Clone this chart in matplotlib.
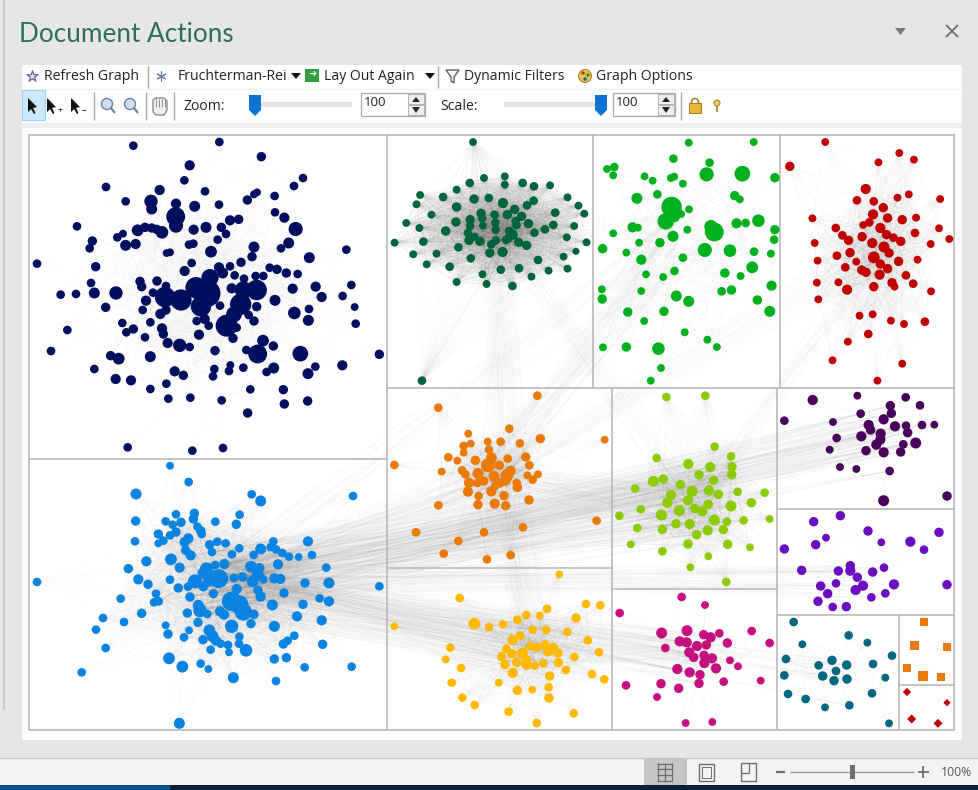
import numpy as np
import matplotlib
matplotlib.use('Agg')
import matplotlib.pyplot as plt
from matplotlib.collections import LineCollection
from matplotlib.patches import Rectangle, Polygon, Circle

navy = [(310,32,11),(568,21,11),(694,65,12),(479,91,13),(463,136,11),(228,156,11),(389,165,13),(525,169,11),(819,129,11),(792,153,11),(734,183,11),(681,172,10),(672,178,10),(652,195,12),(287,199,11),(363,199,17),(365,222,14),(438,206,13),(494,214,14),(567,209,11),(437,245,24),(438,272,18),(735,232,11),(763,248,13),(797,282,18),(600,256,13),(626,253,12),(574,277,12),(528,277,14),(491,284,13),(588,297,11),(141,274,11),(279,296,10),(262,307,11),(323,286,15),(345,277,12),(365,279,12),(380,283,12),(396,292,16),(187,318,12),(179,340,11),(287,331,14),(317,327,13),(477,329,11),(490,326,11),(563,314,11),(410,354,10),(420,352,10),(543,350,15),(776,324,14),(672,336,14),(753,340,11),(666,365,12),(949,344,11),(838,368,14),(633,382,12),(21,386,11),(197,395,12),(485,384,11),(464,408,13),(567,397,13),(600,394,11),(578,414,14),(540,428,22),(614,421,11),(719,398,11),(741,403,12),(769,414,12),(803,417,11),(700,423,11),(677,423,11),(642,431,11),(330,439,12),(335,455,12),(381,438,12),(183,444,11),(408,453,11),(92,479,11),(138,477,11),(193,474,14),(258,474,17),(369,473,11),(405,486,26),(498,458,27),(530,475,35),(453,495,27),(513,514,26),(964,450,11),(857,455,13),(788,461,13),(875,486,13),(938,483,11),(735,496,14),(680,465,26),(640,465,22),(605,460,13),(632,508,27),(680,515,12),(348,497,13),(338,525,11),(227,517,12),(408,525,12),(391,537,13),(570,512,11),(974,516,10),(837,522,11),(793,534,16),(835,556,14),(656,540,11),(672,558,12),(612,538,20),(590,572,28),(620,578,11),(500,558,11),(524,552,13),(536,572,11),(277,564,11),(361,562,11),(977,566,11),(112,585,11),(289,592,11),(310,582,12),(396,580,13),(400,597,12),(345,607,11),(507,599,13),(609,610,12),(413,624,13),(449,631,17),(479,636,11),(555,647,12),(699,617,15),(730,633,12),(649,645,11),(683,657,24),(811,656,20),(63,648,11),(242,662,12),(266,671,15),(361,665,14),(1048,658,12),(601,690,10),(553,702,11),(597,708,11),(640,698,11),(731,699,14),(710,711,11),(856,695,11),(937,691,13),(834,716,14),(193,702,11),(434,709,13),(460,721,12),(549,724,11),(257,732,13),(303,736,13),(409,746,11),(361,762,11),(661,763,11),(760,764,12),(415,791,11),(481,788,11),(575,796,11),(763,807,12),(833,798,12),(653,834,12),(293,937,11),(487,947,11),(579,939,11)]
blue = [(420,23,10),(476,72,11),(318,108,14),(665,109,11),(692,129,14),(969,114,11),(438,169,11),(493,166,12),(629,170,11),(490,183,12),(407,190,11),(317,189,12),(453,193,12),(556,191,11),(619,199,12),(428,200,11),(502,206,11),(512,218,12),(438,222,12),(420,232,11),(385,228,12),(515,228,11),(315,250,11),(400,248,11),(385,256,10),(475,241,13),(464,252,13),(562,251,11),(539,260,12),(587,256,11),(730,250,11),(834,250,13),(722,267,11),(692,273,14),(738,274,11),(628,271,11),(757,285,11),(467,277,12),(482,292,13),(546,282,11),(606,289,11),(671,291,11),(777,296,11),(806,297,10),(846,291,11),(349,310,13),(423,304,15),(556,321,11),(583,318,13),(744,319,13),(449,329,13),(530,333,17),(295,332,12),(663,326,15),(688,330,13),(889,329,11),(520,345,15),(566,362,24),(612,360,11),(638,357,12),(683,350,15),(420,365,11),(325,364,13),(354,379,12),(495,370,18),(540,365,17),(700,364,11),(733,361,13),(751,363,13),(668,370,15),(825,375,12),(897,375,14),(445,390,12),(474,386,11),(520,385,13),(1048,385,11),(21,372,11),(620,393,13),(684,397,12),(378,407,11),(550,407,12),(692,416,13),(762,405,12),(272,422,11),(480,417,12),(869,421,11),(897,430,13),(372,433,11),(386,430,11),(605,430,25),(627,440,24),(727,441,14),(819,439,12),(505,442,14),(510,458,17),(472,465,12),(532,468,11),(570,460,13),(582,470,13),(640,462,22),(672,469,12),(801,475,13),(335,466,12),(219,480,11),(282,492,11),(504,493,12),(663,497,12),(605,505,17),(875,487,13),(733,505,14),(407,502,10),(198,515,11),(477,517,10),(414,528,12),(538,517,15),(462,538,11),(548,535,15),(628,536,11),(793,533,11),(519,545,12),(558,548,13),(572,557,11),(594,561,11),(627,557,11),(648,577,16),(773,548,11),(760,558,12),(878,559,12),(227,570,11),(542,575,11),(597,583,10),(417,601,15),(733,603,12),(769,599,12),(457,626,15),(512,617,11),(535,633,10),(824,628,11),(965,626,11),(155,643,11),(610,659,14),(738,669,11),(448,796,14)]
dark_green = [(233,21,10),(320,124,10),(263,129,10),(224,144,11),(320,149,10),(369,144,11),(400,154,11),(444,151,10),(188,164,10),(88,180,10),(151,186,11),(236,192,12),(276,189,11),(315,204,13),(492,187,10),(399,197,11),(381,211,11),(78,208,10),(188,216,12),(347,223,12),(522,212,10),(538,236,10),(458,233,11),(119,239,10),(255,235,12),(292,239,11),(327,239,12),(366,244,12),(225,254,12),(258,250,11),(350,258,11),(50,264,10),(186,261,12),(225,273,11),(294,263,11),(260,272,10),(352,271,11),(385,266,12),(453,270,11),(510,273,10),(86,279,10),(158,288,12),(295,284,11),(332,288,11),(430,283,11),(401,293,11),(219,294,11),(342,299,13),(490,307,10),(238,305,10),(222,316,12),(252,319,12),(330,310,11),(18,323,10),(97,320,11),(544,322,10),(296,316,11),(323,315,11),(358,322,12),(283,328,11),(380,331,12),(193,337,11),(279,354,12),(314,351,13),(69,358,10),(133,356,10),(515,349,9),(481,365,10),(227,370,11),(411,375,11),(106,388,10),(169,395,11),(492,401,10),(309,404,11),(359,400,11),(440,407,10),(259,418,10),(393,425,10),(188,441,10),(270,447,10),(341,453,11),(93,737,11)]
bright_green = [(824,23,10),(1002,21,10),(782,71,11),(881,83,11),(600,102,10),(620,96,11),(617,121,10),(703,124,10),(725,137,10),(775,129,10),(784,125,10),(873,118,18),(971,116,20),(1060,128,12),(808,146,10),(682,190,14),(738,178,11),(950,182,12),(964,193,10),(777,216,26),(825,223,10),(803,237,10),(785,245,14),(761,259,21),(955,265,13),(980,264,11),(1015,257,16),(670,277,13),(685,278,10),(885,275,17),(894,291,24),(820,284,10),(1060,284,12),(617,295,10),(781,304,14),(1058,314,11),(688,323,10),(745,323,12),(588,341,12),(868,345,18),(937,347,16),(1003,350,11),(653,353,10),(1049,356,10),(694,374,13),(808,368,11),(998,397,15),(785,408,11),(923,414,12),(707,418,10),(754,426,10),(966,423,10),(586,463,10),(694,468,10),(914,469,11),(941,465,12),(1051,452,13),(587,492,12),(790,483,14),(824,499,14),(1012,495,12),(657,531,12),(756,529,12),(1046,529,14),(702,558,10),(813,592,10),(875,614,10),(901,636,10),(589,637,10),(653,636,12),(741,641,16),(748,699,10),(720,737,10)]
red = [(1198,21,10),(1101,94,12),(1401,54,10),(1441,74,10),(1344,82,10),(1309,162,13),(1427,178,10),(1396,188,10),(1513,192,10),(1285,196,11),(1331,199,11),(1357,218,12),(1329,238,13),(1369,249,12),(1409,254,12),(1447,248,10),(1163,250,10),(1319,262,11),(1302,270,10),(1227,279,11),(1349,279,13),(1510,280,10),(1444,294,11),(1245,301,11),(1262,316,12),(1299,305,12),(1366,299,12),(1385,308,11),(1405,319,12),(1538,312,10),(1487,327,10),(1169,324,10),(1327,324,13),(1359,336,14),(1373,354,12),(1266,353,12),(1230,362,11),(1331,367,15),(1283,380,10),(1177,377,10),(1349,387,12),(1399,379,12),(1451,374,10),(1253,397,11),(1298,405,12),(1310,412,12),(1369,401,12),(1347,419,13),(1419,421,11),(1175,443,10),(1234,442,10),(1381,443,12),(1388,455,10),(1439,446,11),(1331,455,12),(1258,464,13),(1488,469,10),(1179,493,10),(1292,542,10),(1328,538,10),(1378,557,10),(1414,567,10),(1471,560,11),(1316,597,11),(1260,620,10),(1218,676,10),(1409,686,10),(1341,737,10)]
orange = [(448,23,11),(151,59,11),(364,122,11),(241,137,10),(457,152,12),(650,155,10),(299,161,10),(338,161,11),(396,166,11),(227,174,11),(248,167,10),(303,185,11),(227,194,10),(181,208,11),(413,207,12),(208,218,10),(262,217,12),(310,210,14),(359,212,11),(19,231,11),(300,232,18),(424,232,11),(334,232,12),(161,251,10),(222,247,11),(368,248,13),(270,256,14),(232,259,11),(450,259,10),(418,262,10),(434,275,11),(318,265,14),(357,262,16),(352,277,14),(243,284,13),(268,285,11),(287,279,12),(336,285,12),(386,285,11),(388,298,12),(322,293,11),(310,310,13),(240,311,13),(272,324,11),(348,323,12),(423,336,12),(320,347,13),(270,350,12),(353,353,12),(151,352,11),(626,398,11),(405,418,11),(84,433,11),(288,433,11),(211,459,11),(167,497,11),(368,501,11),(297,514,11)]
yellow = [(514,559,10),(215,630,11),(594,648,11),(637,652,11),(477,662,11),(259,707,15),(303,717,11),(345,709,11),(388,695,11),(415,681,11),(455,683,10),(564,690,12),(19,715,10),(434,725,11),(474,726,11),(538,732,11),(397,743,11),(374,756,13),(599,757,11),(426,774,11),(447,779,12),(471,769,11),(495,779,13),(187,779,11),(355,782,11),(371,797,12),(403,795,14),(480,790,13),(510,795,12),(633,793,11),(173,814,10),(341,806,12),(559,807,11),(351,830,12),(386,823,12),(415,815,12),(416,830,13),(440,833,11),(466,826,11),(511,824,12),(219,840,11),(534,846,11),(374,855,13),(485,864,12),(612,858,11),(649,874,11),(191,884,11),(332,884,10),(388,907,12),(433,905,10),(482,898,11),(223,929,11),(483,930,12),(260,951,11),(362,971,11),(557,976,11),(446,1005,11)]
lime = [(835,27,11),(952,23,11),(980,176,11),(806,210,11),(1029,205,11),(901,228,13),(967,237,13),(1032,236,12),(1031,260,12),(933,260,12),(826,273,12),(796,280,14),(977,277,12),(877,290,12),(741,302,11),(912,310,14),(963,307,13),(1049,311,11),(1130,314,11),(849,321,13),(991,319,12),(900,337,13),(838,344,13),(961,349,12),(1090,344,12),(1029,354,14),(758,364,11),(920,361,12),(874,368,14),(943,370,13),(694,383,11),(820,381,14),(979,396,14),(1067,397,11),(1145,393,10),(864,407,12),(905,408,13),(1017,401,11),(748,420,11),(823,424,12),(959,427,13),(1006,425,12),(926,440,12),(728,469,10),(900,468,12),(1019,469,12),(1086,478,10),(823,490,11),(961,505,10),(907,538,10),(1015,582,11)]
magenta = [(881,627,11),(951,651,10),(695,675,11),(821,735,14),(897,728,14),(947,740,12),(968,748,13),(994,736,11),(1091,729,11),(1145,765,11),(875,760,13),(896,763,13),(927,774,13),(955,771,12),(1018,765,12),(832,780,11),(904,793,13),(948,802,12),(917,808,12),(972,811,13),(949,825,13),(1026,817,10),(1050,835,10),(868,843,13),(984,841,13),(905,853,13),(936,860,12),(1118,878,10),(1007,881,11),(714,892,11),(819,887,12),(933,886,12),(872,901,12),(807,927,10),(893,1005,10),(973,1002,10)]
dark_purple = [(113,36,13),(247,23,10),(392,28,11),(346,53,12),(435,52,11),(349,76,12),(257,77,11),(28,98,11),(174,102,10),(326,94,13),(281,111,13),(360,115,13),(393,113,11),(441,111,11),(478,110,10),(287,126,12),(398,134,12),(317,137,13),(259,145,13),(185,150,11),(316,155,13),(304,170,13),(385,169,11),(422,165,14),(164,185,10),(273,188,12),(326,193,13),(377,192,12),(195,237,10),(244,243,10),(344,249,11),(326,338,14),(516,324,12)]
purple = [(196,383,12),(116,401,12),(279,429,12),(492,433,12),(153,449,10),(319,463,10),(406,461,13),(122,470,12),(28,483,12),(447,485,11),(226,533,12),(80,547,12),(190,549,12),(226,548,13),(327,539,11),(293,552,12),(247,568,12),(183,586,11),(137,594,12),(264,593,13),(357,589,13),(242,606,13),(158,617,12),(331,616,11),(516,590,12),(289,628,11),(129,640,12),(173,657,11),(214,656,12)]
teal = [(56,702,11),(221,742,11),(82,769,10),(277,764,10),(351,803,11),(33,813,11),(171,817,12),(215,831,12),(131,832,11),(294,828,11),(183,849,11),(143,864,12),(28,862,11),(331,869,10),(216,873,12),(177,878,12),(39,918,11),(291,916,11),(92,933,11),(150,958,10),(223,952,11),(342,1006,10)]
squares = [(447,702,11),(419,773,13),(516,776,11),(396,840,11),(444,864,13),(498,867,11)]
diamonds = [(396,912,10),(516,944,9),(410,993,11),(489,1006,11)]

# name: nodes, crop origin, crop x scale, colour, marker, every n-th pair joined, edge alpha
clusters = {
    'navy': (navy, (30, 135), 3.0, '#000E5E', 'o', 11, 0.025),
    'blue': (blue, (30, 458), 3.0, '#0A84E0', 'o', 4, 0.035),
    'dark_green': (dark_green, (388, 135), 2.74, '#00643A', 'o', 1, 0.07),
    'bright_green': (bright_green, (388, 135), 2.74, '#00B01E', 'o', 7, 0.04),
    'red': (red, (388, 135), 2.74, '#C00000', 'o', 2, 0.05),
    'orange': (orange, (388, 388), 3.0, '#E87A05', 'o', 2, 0.05),
    'yellow': (yellow, (388, 388), 3.0, '#FFB900', 'o', 2, 0.05),
    'lime': (lime, (388, 388), 3.0, '#8CCB05', 'o', 1, 0.04),
    'magenta': (magenta, (388, 388), 3.0, '#C50F7F', 'o', 3, 0.04),
    'dark_purple': (dark_purple, (775, 388), 3.0, '#480058', 'o', 3, 0.04),
    'purple': (purple, (775, 388), 3.0, '#6A0DBE', 'o', 5, 0.04),
    'teal': (teal, (775, 388), 3.0, '#00677F', 'o', 2, 0.05),
    'squares': (squares, (775, 388), 3.0, '#EB7A0C', 's', 3, 0.05),
    'diamonds': (diamonds, (775, 388), 3.0, '#C00000', 'D', 3, 0.05),
}

# links between groups: from, to, how many core nodes each side, alpha
bundles = [
    ('blue', 'lime', 30, 0.03), ('blue', 'dark_purple', 20, 0.04), ('blue', 'orange', 14, 0.02),
    ('blue', 'yellow', 22, 0.028), ('blue', 'magenta', 16, 0.026), ('blue', 'purple', 12, 0.02),
    ('blue', 'teal', 8, 0.016), ('orange', 'lime', 14, 0.018), ('yellow', 'orange', 10, 0.014),
    ('dark_green', 'yellow', 12, 0.008), ('dark_green', 'orange', 12, 0.008),
    ('bright_green', 'orange', 14, 0.014), ('bright_green', 'blue', 8, 0.012), ('red', 'orange', 10, 0.012),
    ('red', 'lime', 8, 0.012), ('lime', 'dark_green', 8, 0.01),
    ('yellow', 'magenta', 8, 0.014), ('dark_green', 'bright_green', 6, 0.012),
]

# panel dividers: x0, y0, x1, y1
panel_lines = [
    (29,134.5,955,134.5),(29,730,955,730),(29.5,134,29.5,730),(954.5,134,954.5,730),
    (387.5,134,387.5,730),(29,458.5,387,458.5),(387,388,955,388),(593.5,134,593.5,388),(780.5,134,780.5,388),
    (612.5,388,612.5,730),(387,567.5,612,567.5),(777.5,388,777.5,730),(612,588.5,777,588.5),
    (777,508.5,955,508.5),(777,614.5,955,614.5),(899.5,614,899.5,730),(899,684.5,955,684.5),
]

toolbar_labels = ['Refresh Graph', 'Fruchterman-Rei', 'Lay Out Again', 'Dynamic Filters', 'Graph Options']
toolbar_x = [44, 178, 324, 464, 596]

plt.rcParams['font.family'] = ['Open Sans', 'DejaVu Sans']
fig = plt.figure(figsize=(9.79, 7.90), dpi=100, facecolor='#E6E6E6')
ax = fig.add_axes([0, 0, 1, 1])
ax.set_xlim(0, 979)
ax.set_ylim(790, 0)
ax.axis('off')


def box(x0, y0, x1, y1, color, z=1, edge='none', lw=0):
    ax.add_patch(Rectangle((x0, y0), x1 - x0, y1 - y0, facecolor=color, edgecolor=edge, linewidth=lw, zorder=z))


def seg(x0, y0, x1, y1, color='#999999', lw=1, z=3):
    ax.plot([x0, x1], [y0, y1], color=color, lw=lw, zorder=z, solid_capstyle='butt')


def label(x, y, s, size=10.1, color='#222222', ha='left', **kw):
    ax.text(x, y, s, fontsize=size, color=color, ha=ha, va='center', zorder=6, **kw)


def node_xy(name):
    nodes, origin, sx = clusters[name][:3]
    a = np.array(nodes, dtype=float)
    return np.column_stack([origin[0] + a[:, 0] / sx, origin[1] + a[:, 1] / 3])


def core(name, n):
    xy = node_xy(name)
    d = np.hypot(*(xy - np.median(xy, axis=0)).T)
    return xy[np.argsort(d)[:n]]


# window background
box(3, 0, 5, 710, '#C9C9C9')
box(22, 65, 962, 740, '#FFFFFF')
box(22, 123, 962, 128, '#F0F0F0')
seg(22, 88.5, 962, 88.5, '#F2F2F2')
label(19, 34, 'Document Actions', size=18.8, color='#2F7055', fontfamily=['Lato', 'DejaVu Sans'])

# edges first, nodes go on top of them; long links are much fainter
for name, spec in clusters.items():
    step, alpha = spec[5], spec[6]
    xy = node_xy(name)
    pairs = [(xy[i], xy[j]) for i in range(len(xy)) for j in range(i + 1, len(xy)) if (i + j) % step == 0]
    lens = np.array([np.hypot(*(p - q)) for p, q in pairs])
    cut = np.median(lens) * 1.2
    near = [p for p, d in zip(pairs, lens) if d <= cut]
    far = [p for p, d in zip(pairs, lens) if d > cut]
    ax.add_collection(LineCollection(near, colors='#808080', linewidths=0.5, alpha=alpha, zorder=2))
    ax.add_collection(LineCollection(far, colors='#808080', linewidths=0.5, alpha=alpha * 0.35, zorder=2))
for a, b, n, alpha in bundles:
    pa, pb = core(a, n), core(b, n)
    segs = [(p, pb[(i + k) % n]) for i, p in enumerate(pa) for k in (0, 2, 3, 5, 7, 11)]
    ax.add_collection(LineCollection(segs, colors='#808080', linewidths=0.7, alpha=alpha, zorder=2))

for x0, y0, x1, y1 in panel_lines:
    seg(x0, y0, x1, y1, '#B4B4B4', 1.1)

for name, spec in clusters.items():
    xy = node_xy(name)
    r = np.array(spec[0], dtype=float)[:, 2] / 3
    # radius in px -> marker area in pt^2, the screenshot is blurred so a bit bigger
    s = (2 * r * 0.72 * 1.18) ** 2
    if spec[4] == 's':
        s = s * 0.8
    if spec[4] == 'D':
        s = s * 0.55
    ax.scatter(xy[:, 0], xy[:, 1], s=s, c=spec[3], marker=spec[4], linewidths=0, zorder=4)

# first toolbar row
for x, t in zip(toolbar_x, toolbar_labels):
    label(x, 77, t)
ax.scatter([32], [76], s=70, marker='*', facecolor='#E3E3F2', edgecolor='#5A5F8C', linewidths=0.8, zorder=5)
ax.scatter([161], [76], s=46, marker=(6, 2, 0), color='#6C7BA8', linewidths=0.8, zorder=5)
box(305, 69, 319, 82, '#2E9E3E', 5)
label(312, 75, '➜', size=7, color='white', ha='center', fontfamily='DejaVu Sans')
ax.add_patch(Polygon([(446, 70), (459, 70), (454, 77), (454, 83), (451, 81), (451, 77)], facecolor='#F2F2F2', edgecolor='#555555', lw=0.9, zorder=5))
ax.add_patch(Circle((585, 76), 6.5, facecolor='#E2C54A', edgecolor='#8A7420', lw=0.6, zorder=5))
ax.scatter([583, 588, 585], [73, 75, 79], s=[6, 5, 6], c=['#C03030', '#208030', '#3050B0'], linewidths=0, zorder=6)
for tx in [296, 430]:
    ax.add_patch(Polygon([(tx - 5, 73), (tx + 5, 73), (tx, 79)], facecolor='#111111', edgecolor='none', zorder=5))
for x in [148.5, 438.5]:
    seg(x, 66, x, 88, '#A8A8A8')

# second toolbar row
box(22, 90, 45, 120, '#CCE8FF', 4, '#99D1FF', 0.8)
for i, x in enumerate([28, 47, 71]):
    ax.add_patch(Polygon([(x, 98), (x, 112), (x + 3, 109), (x + 6, 114), (x + 7.5, 113), (x + 5, 108), (x + 9, 107)], facecolor='#111111', zorder=5))
label(60, 111, '+', size=6.5, color='#111111', ha='center')
label(84, 111, '–', size=6.5, color='#111111', ha='center')
for x in [107, 130]:
    ax.add_patch(Circle((x, 104), 5.5, facecolor='#CFE0F3', edgecolor='#6E7FA0', lw=1, zorder=5))
    seg(x + 4, 108, x + 8, 113, '#6E7FA0', 1.6, 5)
ax.add_patch(Polygon([(153, 112), (153, 100), (156, 98), (164, 98), (167, 101), (167, 110), (164, 115), (156, 115)], facecolor='#F0F0F0', edgecolor='#8C8C8C', lw=1, zorder=5))
for x in [156, 159, 162, 165]:
    seg(x, 99, x, 107, '#8C8C8C', 0.7, 6)
for x in [94, 146, 174, 681]:
    seg(x + 0.5, 92, x + 0.5, 120, '#A8A8A8')
label(184, 106, 'Zoom:')
label(440, 106, 'Scale:')
box(252, 102, 352, 106.5, '#E4E4E4', 4)
box(504, 102, 600, 106.5, '#E4E4E4', 4)
for x in [255, 601]:
    ax.add_patch(Polygon([(x - 6, 95), (x + 6, 95), (x + 6, 110), (x, 116), (x - 6, 110)], facecolor='#0A74D0', zorder=5))
for x0, x1 in [(361, 425), (613, 675)]:
    box(x0, 93, x1, 116, 'white', 4, '#A9A9A9', 0.9)
    label(x0 + 3, 103, '100', size=9.5, color='#222222')
    box(x1 - 17, 94, x1 - 1, 104, '#EFEFEF', 5, '#A9A9A9', 0.6)
    box(x1 - 17, 105, x1 - 1, 115, '#EFEFEF', 5, '#A9A9A9', 0.6)
    ax.add_patch(Polygon([(x1 - 13, 102), (x1 - 5, 102), (x1 - 9, 97)], facecolor='#222222', zorder=6))
    ax.add_patch(Polygon([(x1 - 13, 107), (x1 - 5, 107), (x1 - 9, 113)], facecolor='#222222', zorder=6))
box(689, 103, 701, 113, '#E8B53A', 5, '#A57C18', 0.7)
ax.add_patch(Circle((695, 102), 3.5, facecolor='none', edgecolor='#A57C18', lw=1.1, zorder=4))
ax.add_patch(Circle((717, 103), 3, facecolor='#EFD060', edgecolor='#A57C18', lw=0.7, zorder=5))
seg(717, 106, 717, 112, '#A57C18', 1.2, 5)

# pane header controls
ax.add_patch(Polygon([(895, 28), (906, 28), (900.5, 35)], facecolor='#777777', zorder=5))
seg(946, 25, 958, 37, '#6E6E6E', 1.3, 5)
seg(958, 25, 946, 37, '#6E6E6E', 1.3, 5)

# status bar
box(0, 758, 979, 785, '#F3F3F3', 1)
seg(0, 758, 979, 758, '#C8C8C8', 1, 2)
box(644, 758, 687, 785, '#C6C6C6', 2)
box(0, 785, 979, 790, '#0C2238', 2)
box(0, 785, 170, 790, '#00538F', 3)
for x in [658, 665, 672]:
    seg(x, 763, x, 781, '#6E6E6E', 0.9, 4)
for y in [763.5, 769, 775, 781]:
    seg(657.5, y, 672.5, y, '#6E6E6E', 0.9, 4)
box(699, 764, 714, 781, 'none', 4, '#6E6E6E', 1)
box(702, 767, 711, 778, 'none', 4, '#6E6E6E', 0.7)
box(741, 763, 756, 781, 'none', 4, '#6E6E6E', 1)
seg(741, 773, 749, 773, '#6E6E6E', 0.9, 4)
seg(749, 763, 749, 773, '#6E6E6E', 0.9, 4)
seg(776, 772, 785, 772, '#6E6E6E', 1.6, 4)
seg(790, 772, 914, 772, '#A0A0A0', 1, 4)
box(850, 765, 855, 779, '#6E6E6E', 5)
seg(918, 772, 929, 772, '#6E6E6E', 1.3, 4)
seg(923.5, 766, 923.5, 778, '#6E6E6E', 1.3, 4)
label(956, 772.5, '100%', size=8.8, color='#555555', ha='center')

fig.savefig('out.png', dpi=100, facecolor=fig.get_facecolor())
